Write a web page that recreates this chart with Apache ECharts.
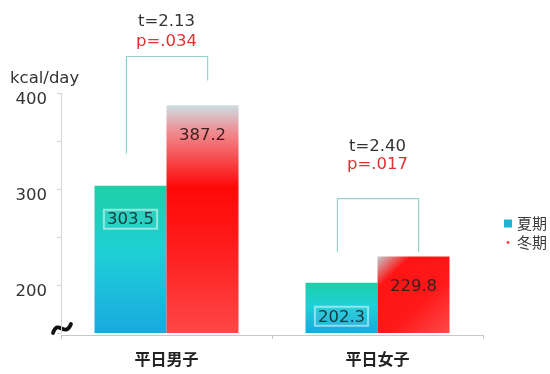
<!DOCTYPE html>
<html><head><meta charset="utf-8">
<script src="https://cdn.jsdelivr.net/npm/echarts@6/dist/echarts.min.js"></script>
<style>html,body{margin:0;padding:0;background:#fff}#c{width:550px;height:374px}</style>
</head><body><div id="c"></div>
<script>
const categories = ['平日男子', '平日女子'];
const seriesNames = ['夏期', '冬期'];
const summerValues = [303.5, 202.3];
const winterValues = [387.2, 229.8];
const yTickLabels = [200, 300, 400];
const tStats = ['t=2.13', 't=2.40'];
const pStats = ['p=.034', 'p=.017'];
// significance brackets, in value units (kcal/day)
const bracketTop = [438, 290];
const bracketLeftEnd = [337, 234];
const bracketRightEnd = [413, 234];
const tLabelAt = [474, 344];
const pLabelAt = [453, 325];

const LATIN = 'DejaVu Sans';
const CJK = 'Noto Sans CJK JP';

const chart = echarts.init(document.getElementById('c'), null, {renderer: 'canvas'});

const summerGrad = new echarts.graphic.LinearGradient(0, 0, 0, 1, [
  {offset: 0, color: '#1dcfa6'},
  {offset: 0.45, color: '#1fd0d6'},
  {offset: 1, color: '#19a9df'}
]);
const winterGradMale = new echarts.graphic.LinearGradient(0, 0, 0, 1, [
  {offset: 0, color: '#cddde3'},
  {offset: 0.12, color: '#f08a8e'},
  {offset: 0.36, color: '#ff0808'},
  {offset: 0.6, color: '#ff1a1a'},
  {offset: 1, color: '#ff4646'}
]);
const winterGradFemale = new echarts.graphic.LinearGradient(0, 0, 1, 1, [
  {offset: 0, color: '#c3cbd0'},
  {offset: 0.22, color: '#ff1414'},
  {offset: 0.6, color: '#ff1818'},
  {offset: 1, color: '#ff4a4a'}
]);
const winterGrads = [winterGradMale, winterGradFemale];

const option = {
  animation: false,
  backgroundColor: '#fff',
  grid: {left: 61, right: 67, top: 93, bottom: 41, containLabel: false},
  xAxis: {
    type: 'category',
    data: categories,
    offset: 2,
    axisLine: {show: true, lineStyle: {color: '#c8c8c8', width: 1}},
    axisTick: {show: true, length: 4, lineStyle: {color: '#c8c8c8'}},
    axisLabel: {margin: 16, fontSize: 16, fontWeight: 'bold', color: '#222', fontFamily: CJK}
  },
  yAxis: {
    type: 'value',
    min: 150, max: 400, interval: 50,
    axisLine: {show: true, lineStyle: {color: '#d6d6d6'}},
    axisTick: {show: true, length: 4, lineStyle: {color: '#d6d6d6'}},
    splitLine: {show: false},
    axisLabel: {
      margin: 14, fontSize: 16.5, color: '#333', fontFamily: LATIN,
      verticalAlign: 'top', lineHeight: 14,
      formatter: v => yTickLabels.includes(v) ? String(v) : ''
    }
  },
  legend: {
    orient: 'vertical', left: 504, top: 216, padding: 0,
    itemWidth: 8, itemHeight: 8, itemGap: 4,
    textStyle: {fontSize: 15, color: '#3a3a3a', fontFamily: CJK},
    data: [
      {name: seriesNames[0], icon: 'rect', itemStyle: {color: '#1db6d2'}},
      {name: seriesNames[1], icon: 'path://M0,0M10,10M3.2,5a1.8,1.8 0 1,0 3.6,0a1.8,1.8 0 1,0 -3.6,0Z', itemStyle: {color: '#ff4040'}}
    ]
  },
  graphic: [
    {type: 'text', left: 10, top: 70, style: {text: 'kcal/day', fontSize: 16.5, fontFamily: LATIN, fill: '#333'}},
    {type: 'bezierCurve', shape: {x1: 53, y1: 333, cpx1: 58, cpy1: 318, cpx2: 65, cpy2: 339, x2: 71, y2: 324},
     style: {stroke: '#111', lineWidth: 3.8, fill: null, lineCap: 'round'}}
  ],
  series: [
    {
      name: seriesNames[0], type: 'bar', barWidth: 72, barGap: '0%',
      data: summerValues.map(v => ({value: v, itemStyle: {color: summerGrad}})),
      label: {
        show: true, position: 'insideTop', distance: 24,
        fontSize: 16.5, fontFamily: LATIN, color: '#17393d',
        borderColor: 'rgba(255,255,255,0.5)', borderWidth: 1,
        backgroundColor: 'rgba(255,255,255,0.06)', padding: [2, 3, 0, 3]
      }
    },
    {
      name: seriesNames[1], type: 'bar', barWidth: 72, barGap: '0%',
      data: winterValues.map((v, i) => ({value: v, itemStyle: {color: winterGrads[i]}})),
      label: {
        show: true, position: 'insideTop', distance: 22,
        fontSize: 16.5, fontFamily: LATIN, color: '#3a1e1e'
      }
    },
    {
      type: 'custom', coordinateSystem: 'cartesian2d', silent: true, clip: false, z: 5,
      data: categories.map((c, i) => [i, bracketTop[i], bracketLeftEnd[i], bracketRightEnd[i], tLabelAt[i], pLabelAt[i]]),
      renderItem: function (params, api) {
        const i = api.value(0);
        const band = api.size([1, 0])[0];
        const top = api.coord([i, api.value(1)]);
        const cx = top[0];
        const yTop = top[1];
        const yL = api.coord([i, api.value(2)])[1];
        const yR = api.coord([i, api.value(3)])[1];
        const yT = api.coord([i, api.value(4)])[1];
        const yP = api.coord([i, api.value(5)])[1];
        const xl = cx - band * 0.19, xr = cx + band * 0.195;
        return {
          type: 'group',
          children: [
            {type: 'polyline', shape: {points: [[xl, yL], [xl, yTop], [xr, yTop], [xr, yR]]},
             style: {stroke: '#93d5cc', lineWidth: 1.2, fill: null}},
            {type: 'text', x: cx, y: yT, style: {text: tStats[i], align: 'center', verticalAlign: 'middle', fill: '#333', fontSize: 16.5, fontFamily: LATIN}},
            {type: 'text', x: cx, y: yP, style: {text: pStats[i], align: 'center', verticalAlign: 'middle', fill: '#e03232', fontSize: 16.5, fontFamily: LATIN}}
          ]
        };
      }
    }
  ]
};
chart.setOption(option);
</script>
</body></html>
